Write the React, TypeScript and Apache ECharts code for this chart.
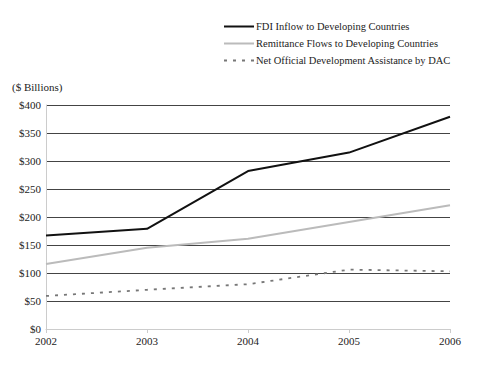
import React, { useEffect, useRef } from "react";
import * as echarts from "echarts";

const years = ["2002", "2003", "2004", "2005", "2006"];
const fdi = [167, 179, 282, 315, 379];
const remittance = [116, 145, 161, 191, 221];
const oda = [59, 70, 80, 106, 103];
const seriesNames = [
  "FDI Inflow to Developing Countries",
  "Remittance Flows to Developing Countries",
  "Net Official Development Assistance by DAC",
];

const FONT = "Liberation Serif, serif";

export default function App() {
  const ref = useRef<HTMLDivElement>(null);
  useEffect(() => {
    document.body.style.margin = "0";
    const chart = echarts.init(ref.current!, null, { renderer: "svg" });
    chart.setOption({
      animation: false,
      backgroundColor: "#fff",
      textStyle: { fontFamily: FONT },
      grid: { left: 46, right: 32, top: 105, bottom: 44 },
      legend: {
        orient: "vertical",
        left: 223,
        top: 21,
        padding: 0,
        itemWidth: 30,
        itemHeight: 10,
        itemGap: 6,
        itemStyle: { opacity: 0 },
        textStyle: { fontFamily: FONT, fontSize: 10.5, color: "#222", padding: [0, 0, 0, -3] },
        data: seriesNames,
      },
      graphic: [
        {
          type: "text",
          left: 12,
          top: 81,
          style: { text: "($ Billions)", fontFamily: FONT, fontSize: 11, fill: "#222" },
        },
      ],
      xAxis: {
        type: "category",
        data: years,
        boundaryGap: false,
        axisLine: { lineStyle: { color: "#ccc" } },
        axisTick: { show: true, alignWithLabel: true, length: 4, lineStyle: { color: "#ccc" } },
        axisLabel: { fontFamily: FONT, fontSize: 11, color: "#222", margin: 6 },
      },
      yAxis: {
        type: "value",
        min: 0,
        max: 400,
        interval: 50,
        axisLine: { show: true, lineStyle: { color: "#ccc" } },
        axisTick: { show: false },
        axisLabel: {
          fontFamily: FONT,
          fontSize: 11,
          color: "#222",
          margin: 5,
          formatter: (v: number) => "$" + v,
        },
        splitLine: { lineStyle: { color: "#444", width: 1 } },
      },
      series: [
        {
          name: seriesNames[0],
          type: "line",
          data: fdi,
          symbol: "none",
          lineStyle: { color: "#111", width: 2 },
          itemStyle: { color: "#111" },
        },
        {
          name: seriesNames[1],
          type: "line",
          data: remittance,
          symbol: "none",
          lineStyle: { color: "#bbb", width: 2 },
          itemStyle: { color: "#bbb" },
        },
        {
          name: seriesNames[2],
          type: "line",
          data: oda,
          symbol: "none",
          lineStyle: { color: "#777", width: 1.8, type: [3, 6] },
          itemStyle: { color: "#777" },
        },
      ],
    });
    return () => chart.dispose();
  }, []);
  return <div ref={ref} style={{ width: 482, height: 373 }} />;
}
